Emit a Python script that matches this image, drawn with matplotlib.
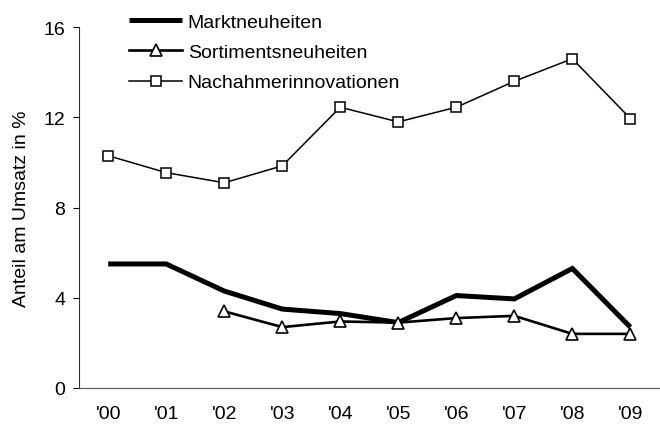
import numpy as np
import matplotlib
matplotlib.use("Agg")
import matplotlib.pyplot as plt

years = ["'00", "'01", "'02", "'03", "'04", "'05", "'06", "'07", "'08", "'09"]
markt = [5.5, 5.5, 4.3, 3.5, 3.3, 2.9, 4.1, 3.95, 5.3, 2.7]
sortiment = [np.nan, np.nan, 3.4, 2.7, 2.95, 2.9, 3.1, 3.2, 2.4, 2.4]
nachahmer = [10.3, 9.55, 9.1, 9.85, 12.45, 11.8, 12.45, 13.6, 14.6, 11.95]

plt.rcParams.update({
    "font.family": ["Liberation Sans", "DejaVu Sans"],
    "font.size": 14,
})

fig = plt.figure(figsize=(6.6, 4.27), dpi=100)
ax = fig.add_axes([0.12, 0.089, 0.879, 0.845])

x = np.arange(len(years))
ax.plot(x, markt, color="black", linewidth=3.6, solid_capstyle="butt",
        solid_joinstyle="miter", label="Marktneuheiten")
ax.plot(x, sortiment, color="black", linewidth=1.9, marker="^", markersize=8.5,
        markerfacecolor="white", markeredgecolor="black", markeredgewidth=1.2,
        label="Sortimentsneuheiten")
ax.plot(x, nachahmer, color="black", linewidth=1.1, marker="s", markersize=7.5,
        markerfacecolor="white", markeredgecolor="black", markeredgewidth=1.1,
        label="Nachahmerinnovationen")

ax.set_xlim(-0.5, len(years) - 0.5)
ax.set_ylim(0, 16)
ax.set_yticks([0, 4, 8, 12, 16])
ax.set_xticks(x)
ax.set_xticklabels(years)
ax.tick_params(axis="x", length=0, pad=12)
ax.tick_params(axis="y", length=4, direction="out", pad=6)
ax.spines["top"].set_visible(False)
ax.spines["right"].set_visible(False)
ax.spines["left"].set_color("#333333")
ax.spines["bottom"].set_color("#555555")
ax.set_ylabel("Anteil am Umsatz in %", labelpad=10)

ax.legend(loc="upper left", bbox_to_anchor=(0.073, 1.06), frameon=False,
          handlelength=2.7, handletextpad=0.3, labelspacing=0.65,
          borderaxespad=0)

fig.savefig("out.png", dpi=100)
